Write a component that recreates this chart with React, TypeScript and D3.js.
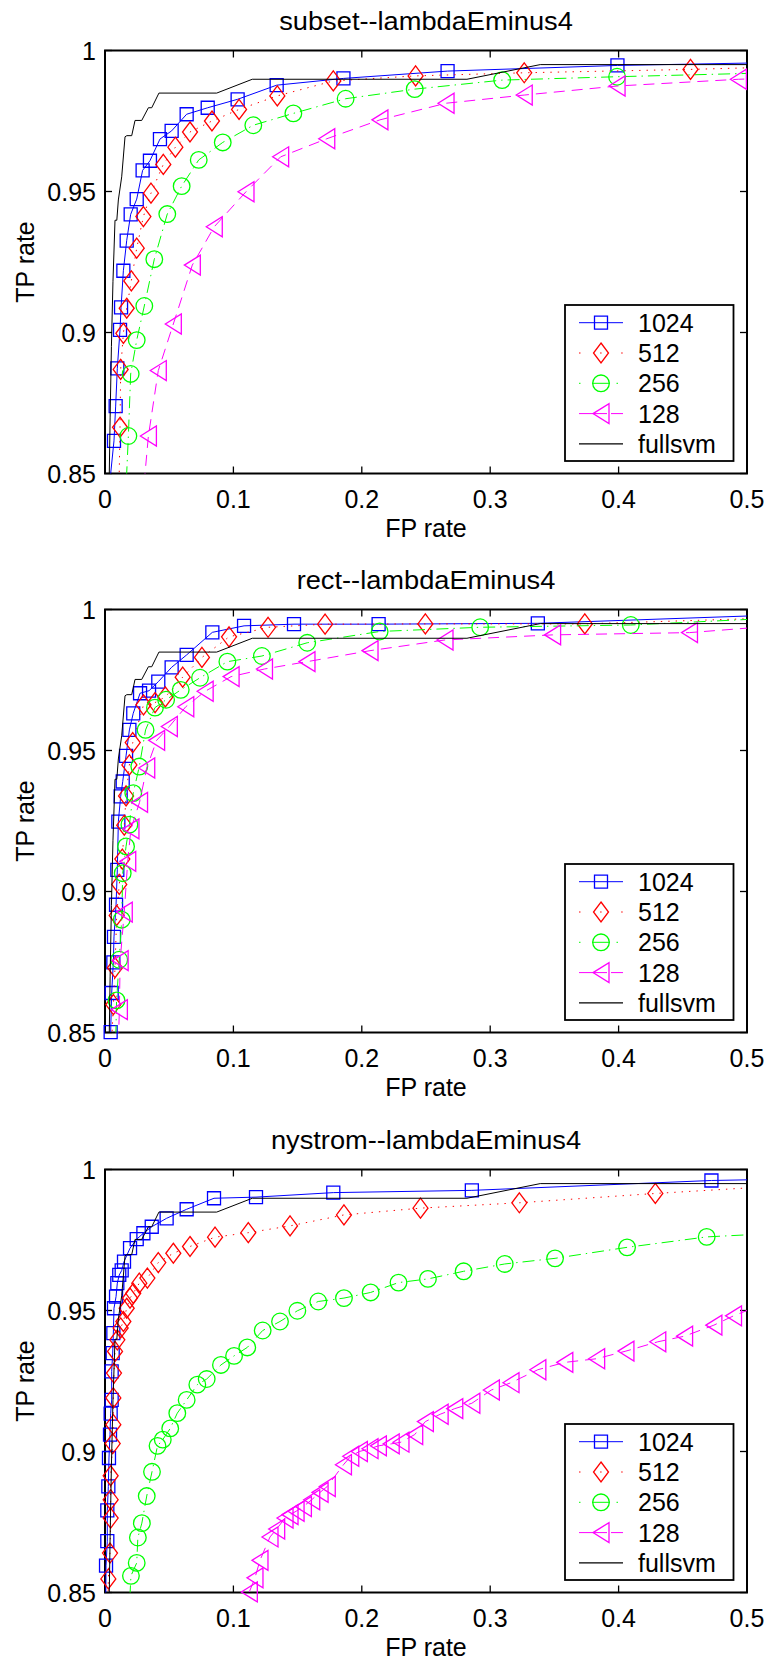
import React from 'react';
import * as d3 from 'd3';

// ---- axis ticks and labels ----
const FP_TICKS = [0, 0.1, 0.2, 0.3, 0.4, 0.5];
const TP_TICKS = [0.85, 0.9, 0.95, 1];
const PANEL_TITLES = ['subset--lambdaEminus4', 'rect--lambdaEminus4', 'nystrom--lambdaEminus4'];
const SERIES_NAMES = ['1024', '512', '256', '128', 'fullsvm'];

// ---- full SVM reference curve (same in every panel) ----
const FULLSVM_FPR = [0.0030, 0.0040, 0.0050, 0.0062, 0.0078, 0.0092, 0.0104, 0.0130, 0.0156, 0.0170, 0.0208, 0.0234, 0.0286, 0.0338, 0.0364, 0.0420, 0.0870, 0.1147, 0.2819, 0.3390, 0.5200];
const FULLSVM_TPR = [0.8400, 0.8700, 0.8950, 0.9180, 0.9398, 0.9398, 0.9470, 0.9552, 0.9694, 0.9698, 0.9698, 0.9752, 0.9752, 0.9797, 0.9797, 0.9849, 0.9849, 0.9898, 0.9898, 0.9950, 0.9950];

// ---- subset ----
const SUBSET_1024_FPR = [0.0022, 0.0070, 0.0083, 0.0096, 0.0117, 0.0125, 0.0143, 0.0169, 0.0200, 0.0247, 0.0293, 0.0350, 0.0428, 0.0519, 0.0636, 0.0800, 0.1033, 0.1337, 0.1857, 0.2668, 0.3991, 0.5200];
const SUBSET_1024_TPR = [0.8400, 0.8616, 0.8739, 0.8873, 0.9009, 0.9089, 0.9219, 0.9326, 0.9419, 0.9473, 0.9575, 0.9609, 0.9686, 0.9715, 0.9774, 0.9797, 0.9827, 0.9877, 0.9901, 0.9927, 0.9947, 0.9957];
const SUBSET_512_FPR = [0.0107, 0.0117, 0.0122, 0.0143, 0.0169, 0.0205, 0.0247, 0.0299, 0.0358, 0.0454, 0.0548, 0.0662, 0.0833, 0.1044, 0.1342, 0.1778, 0.2419, 0.3265, 0.4560, 0.5200];
const SUBSET_512_TPR = [0.8400, 0.8664, 0.8869, 0.8997, 0.9086, 0.9183, 0.9299, 0.9411, 0.9494, 0.9596, 0.9657, 0.9711, 0.9750, 0.9791, 0.9839, 0.9892, 0.9910, 0.9921, 0.9933, 0.9941];
const SUBSET_256_FPR = [0.0159, 0.0182, 0.0200, 0.0247, 0.0306, 0.0384, 0.0485, 0.0597, 0.0730, 0.0917, 0.1155, 0.1467, 0.1874, 0.2412, 0.3093, 0.3988, 0.5200];
const SUBSET_256_TPR = [0.8400, 0.8633, 0.8853, 0.8973, 0.9094, 0.9260, 0.9420, 0.9519, 0.9612, 0.9674, 0.9735, 0.9777, 0.9829, 0.9863, 0.9895, 0.9907, 0.9921];
const SUBSET_128_FPR = [0.0292, 0.0338, 0.0415, 0.0532, 0.0680, 0.0851, 0.1098, 0.1368, 0.1727, 0.2141, 0.2656, 0.3265, 0.3988, 0.4933, 0.5200];
const SUBSET_128_TPR = [0.8400, 0.8633, 0.8865, 0.9030, 0.9239, 0.9375, 0.9499, 0.9623, 0.9687, 0.9754, 0.9813, 0.9842, 0.9874, 0.9898, 0.9902];

// ---- rect ----
const RECT_1024_FPR = [0.0044, 0.0052, 0.0065, 0.0070, 0.0086, 0.0096, 0.0104, 0.0122, 0.0138, 0.0164, 0.0190, 0.0220, 0.0273, 0.0343, 0.0415, 0.0519, 0.0636, 0.0836, 0.1083, 0.1472, 0.2131, 0.3371, 0.5200];
const RECT_1024_TPR = [0.8501, 0.8640, 0.8749, 0.8839, 0.8953, 0.9077, 0.9248, 0.9337, 0.9390, 0.9481, 0.9573, 0.9632, 0.9703, 0.9712, 0.9744, 0.9795, 0.9839, 0.9919, 0.9942, 0.9948, 0.9948, 0.9951, 0.9980];
const RECT_512_FPR = [0.0045, 0.0065, 0.0078, 0.0091, 0.0111, 0.0135, 0.0150, 0.0164, 0.0190, 0.0216, 0.0300, 0.0390, 0.0470, 0.0605, 0.0755, 0.0966, 0.1270, 0.1714, 0.2495, 0.3737, 0.5200];
const RECT_512_TPR = [0.8400, 0.8599, 0.8730, 0.8915, 0.9025, 0.9115, 0.9235, 0.9339, 0.9449, 0.9528, 0.9662, 0.9670, 0.9690, 0.9760, 0.9830, 0.9903, 0.9937, 0.9948, 0.9949, 0.9949, 0.9970];
const RECT_256_FPR = [0.0080, 0.0090, 0.0111, 0.0130, 0.0138, 0.0164, 0.0190, 0.0220, 0.0267, 0.0316, 0.0389, 0.0476, 0.0590, 0.0740, 0.0953, 0.1222, 0.1575, 0.2139, 0.2922, 0.4095, 0.5200];
const RECT_256_TPR = [0.8400, 0.8614, 0.8758, 0.8900, 0.9065, 0.9160, 0.9237, 0.9349, 0.9443, 0.9573, 0.9652, 0.9680, 0.9715, 0.9758, 0.9815, 0.9835, 0.9882, 0.9922, 0.9937, 0.9945, 0.9969];
const RECT_128_FPR = [0.0100, 0.0112, 0.0118, 0.0150, 0.0177, 0.0202, 0.0269, 0.0325, 0.0402, 0.0501, 0.0629, 0.0780, 0.0982, 0.1242, 0.1573, 0.2064, 0.2648, 0.3486, 0.4552, 0.5200];
const RECT_128_TPR = [0.8400, 0.8581, 0.8755, 0.8927, 0.9107, 0.9222, 0.9316, 0.9438, 0.9536, 0.9585, 0.9655, 0.9710, 0.9762, 0.9789, 0.9815, 0.9854, 0.9892, 0.9910, 0.9918, 0.9941];

// ---- nystrom ----
const NYSTROM_1024_FPR = [0.0005, 0.0008, 0.0018, 0.0018, 0.0026, 0.0031, 0.0039, 0.0044, 0.0052, 0.0052, 0.0060, 0.0065, 0.0070, 0.0086, 0.0096, 0.0111, 0.0130, 0.0148, 0.0195, 0.0247, 0.0299, 0.0364, 0.0480, 0.0636, 0.0849, 0.1176, 0.1778, 0.2857, 0.4723, 0.5200];
const NYSTROM_1024_TPR = [0.8400, 0.8595, 0.8682, 0.8791, 0.8876, 0.8977, 0.9060, 0.9134, 0.9183, 0.9284, 0.9349, 0.9420, 0.9508, 0.9549, 0.9597, 0.9626, 0.9642, 0.9673, 0.9721, 0.9753, 0.9774, 0.9797, 0.9827, 0.9859, 0.9898, 0.9902, 0.9918, 0.9926, 0.9961, 0.9965];
const NYSTROM_512_FPR = [0.0022, 0.0026, 0.0039, 0.0044, 0.0044, 0.0044, 0.0060, 0.0065, 0.0065, 0.0070, 0.0078, 0.0096, 0.0122, 0.0143, 0.0169, 0.0195, 0.0220, 0.0267, 0.0330, 0.0415, 0.0532, 0.0662, 0.0857, 0.1116, 0.1441, 0.1861, 0.2457, 0.3227, 0.4286, 0.5200];
const NYSTROM_512_TPR = [0.8400, 0.8548, 0.8640, 0.8764, 0.8829, 0.8914, 0.9028, 0.9095, 0.9190, 0.9278, 0.9355, 0.9396, 0.9438, 0.9461, 0.9508, 0.9544, 0.9561, 0.9597, 0.9615, 0.9670, 0.9703, 0.9727, 0.9760, 0.9776, 0.9800, 0.9839, 0.9863, 0.9882, 0.9915, 0.9940];
const NYSTROM_256_FPR = [0.0185, 0.0202, 0.0247, 0.0256, 0.0287, 0.0325, 0.0366, 0.0409, 0.0450, 0.0508, 0.0563, 0.0636, 0.0719, 0.0792, 0.0903, 0.1005, 0.1108, 0.1228, 0.1363, 0.1498, 0.1661, 0.1861, 0.2069, 0.2286, 0.2515, 0.2793, 0.3113, 0.3505, 0.4066, 0.4686, 0.5200];
const NYSTROM_256_TPR = [0.8400, 0.8559, 0.8605, 0.8695, 0.8746, 0.8842, 0.8928, 0.9020, 0.9042, 0.9082, 0.9136, 0.9183, 0.9237, 0.9257, 0.9307, 0.9339, 0.9369, 0.9429, 0.9461, 0.9499, 0.9532, 0.9544, 0.9564, 0.9599, 0.9612, 0.9639, 0.9665, 0.9685, 0.9724, 0.9761, 0.9773];
const NYSTROM_128_FPR = [0.1124, 0.1168, 0.1207, 0.1285, 0.1337, 0.1402, 0.1441, 0.1488, 0.1545, 0.1610, 0.1675, 0.1731, 0.1857, 0.1914, 0.1981, 0.2064, 0.2129, 0.2229, 0.2305, 0.2412, 0.2495, 0.2610, 0.2724, 0.2857, 0.3009, 0.3162, 0.3371, 0.3581, 0.3829, 0.4057, 0.4305, 0.4514, 0.4742, 0.4895, 0.5200];
const NYSTROM_128_TPR = [0.8502, 0.8552, 0.8614, 0.8697, 0.8725, 0.8764, 0.8776, 0.8788, 0.8805, 0.8829, 0.8855, 0.8876, 0.8953, 0.8983, 0.9000, 0.9010, 0.9020, 0.9027, 0.9033, 0.9060, 0.9106, 0.9132, 0.9152, 0.9171, 0.9218, 0.9244, 0.9290, 0.9316, 0.9329, 0.9356, 0.9389, 0.9409, 0.9448, 0.9481, 0.9536];

// ---- styling ----
const FONT = '"Liberation Sans", Arial, Helvetica, sans-serif';
const W = 766;
const H = 1660;
const PLOT_LEFT = 105;
const PLOT_RIGHT = 747;
const PLOT_H = 423;
const PANEL_TOPS = [50.5, 609.5, 1169.5];

type MarkerKind = 'square' | 'diamond' | 'circle' | 'triangle' | 'none';

interface SeriesStyle {
  color: string;
  dash: string | undefined;
  legendDash: string | undefined;
  marker: MarkerKind;
}

const STYLES: SeriesStyle[] = [
  { color: '#0000ff', dash: undefined, legendDash: undefined, marker: 'square' },
  { color: '#ff0000', dash: '1.4,6', legendDash: '1.5,19.6', marker: 'diamond' },
  { color: '#00ff00', dash: '12,5,1.4,5', legendDash: '1.5,11.5,18,6.5,1.5,20', marker: 'circle' },
  { color: '#ff00ff', dash: '11,7', legendDash: '28,4,12', marker: 'triangle' },
  { color: '#000000', dash: undefined, legendDash: undefined, marker: 'none' },
];

const PANEL_DATA: [number[], number[]][][] = [
  [
    [SUBSET_1024_FPR, SUBSET_1024_TPR],
    [SUBSET_512_FPR, SUBSET_512_TPR],
    [SUBSET_256_FPR, SUBSET_256_TPR],
    [SUBSET_128_FPR, SUBSET_128_TPR],
    [FULLSVM_FPR, FULLSVM_TPR],
  ],
  [
    [RECT_1024_FPR, RECT_1024_TPR],
    [RECT_512_FPR, RECT_512_TPR],
    [RECT_256_FPR, RECT_256_TPR],
    [RECT_128_FPR, RECT_128_TPR],
    [FULLSVM_FPR, FULLSVM_TPR],
  ],
  [
    [NYSTROM_1024_FPR, NYSTROM_1024_TPR],
    [NYSTROM_512_FPR, NYSTROM_512_TPR],
    [NYSTROM_256_FPR, NYSTROM_256_TPR],
    [NYSTROM_128_FPR, NYSTROM_128_TPR],
    [FULLSVM_FPR, FULLSVM_TPR],
  ],
];

function markerPath(kind: MarkerKind, cx: number, cy: number): string {
  switch (kind) {
    case 'square':
      return `M${cx - 6.5},${cy - 6.5}h13v13h-13Z`;
    case 'diamond':
      return `M${cx},${cy - 10}L${cx + 7.5},${cy}L${cx},${cy + 10}L${cx - 7.5},${cy}Z`;
    case 'circle': {
      const r = 8.3;
      return `M${cx - r},${cy}a${r},${r} 0 1,0 ${2 * r},0a${r},${r} 0 1,0 ${-2 * r},0Z`;
    }
    case 'triangle':
      return `M${cx - 8},${cy}L${cx + 8},${cy - 10}L${cx + 8},${cy + 10}Z`;
    default:
      return '';
  }
}

function Panel({ index }: { index: number }) {
  const top = PANEL_TOPS[index];
  const bottom = top + PLOT_H;
  const x = d3.scaleLinear().domain([0, 0.5]).range([PLOT_LEFT, PLOT_RIGHT]);
  const y = d3.scaleLinear().domain([0.85, 1]).range([bottom, top]);
  const line = d3
    .line<[number, number]>()
    .x((d) => x(d[0]))
    .y((d) => y(d[1]));
  const clipId = `plot-clip-${index}`;
  const cx = (PLOT_LEFT + PLOT_RIGHT) / 2;

  // legend geometry
  const legRight = PLOT_RIGHT - 13.5;
  const legLeft = legRight - 168.5;
  const legBottom = bottom - 12.5;
  const legTop = legBottom - 156;
  const rowY = (i: number) => legTop + 17.7 + i * 30.3;

  return (
    <g>
      <defs>
        <clipPath id={clipId}>
          <rect x={PLOT_LEFT} y={top} width={PLOT_RIGHT - PLOT_LEFT} height={PLOT_H} />
        </clipPath>
      </defs>

      {/* title */}
      <text
        transform={`translate(${cx},${top - 20.5}) scale(1.09,1)`}
        textAnchor="middle"
        fontFamily={FONT}
        fontSize={25}
        fill="#000"
      >
        {PANEL_TITLES[index]}
      </text>

      {/* axes box */}
      <rect
        x={PLOT_LEFT}
        y={top}
        width={PLOT_RIGHT - PLOT_LEFT}
        height={PLOT_H}
        fill="#fff"
        stroke="#000"
        strokeWidth={2}
      />

      {/* x ticks */}
      {FP_TICKS.map((t) => (
        <g key={`xt${t}`}>
          <line x1={x(t)} x2={x(t)} y1={bottom} y2={bottom - 7} stroke="#000" strokeWidth={1.3} />
          <line x1={x(t)} x2={x(t)} y1={top} y2={top + 7} stroke="#000" strokeWidth={1.3} />
          <text x={x(t)} y={bottom + 34} textAnchor="middle" fontFamily={FONT} fontSize={25} fill="#000">
            {String(t)}
          </text>
        </g>
      ))}

      {/* y ticks */}
      {TP_TICKS.map((t) => (
        <g key={`yt${t}`}>
          <line x1={PLOT_LEFT} x2={PLOT_LEFT + 7} y1={y(t)} y2={y(t)} stroke="#000" strokeWidth={1.3} />
          <line x1={PLOT_RIGHT} x2={PLOT_RIGHT - 7} y1={y(t)} y2={y(t)} stroke="#000" strokeWidth={1.3} />
          <text x={96} y={y(t) + 9} textAnchor="end" fontFamily={FONT} fontSize={25} fill="#000">
            {String(t)}
          </text>
        </g>
      ))}

      {/* axis labels */}
      <text x={cx} y={bottom + 63} textAnchor="middle" fontFamily={FONT} fontSize={25} fill="#000">
        FP rate
      </text>
      <text
        transform={`translate(34,${(top + bottom) / 2}) rotate(-90)`}
        textAnchor="middle"
        fontFamily={FONT}
        fontSize={25}
        fill="#000"
      >
        TP rate
      </text>

      {/* curves */}
      {PANEL_DATA[index].map(([fpr, tpr], si) => {
        const st = STYLES[si];
        const pts: [number, number][] = fpr.map((f, k) => [f, tpr[k]]);
        const inside = pts.filter((p) => p[0] >= 0 && p[0] <= 0.5 && p[1] >= 0.85 && p[1] <= 1);
        return (
          <g key={`s${si}`}>
            <path
              d={line(pts) || ''}
              fill="none"
              stroke={st.color}
              strokeWidth={1}
              strokeDasharray={st.dash}
              clipPath={`url(#${clipId})`}
            />
            {st.marker !== 'none' &&
              inside.map((p, k) => (
                <path
                  key={k}
                  d={markerPath(st.marker, x(p[0]), y(p[1]))}
                  fill="none"
                  stroke={st.color}
                  strokeWidth={1.3}
                />
              ))}
          </g>
        );
      })}

      {/* legend */}
      <rect
        x={legLeft}
        y={legTop}
        width={legRight - legLeft}
        height={legBottom - legTop}
        fill="#fff"
        stroke="#000"
        strokeWidth={1.8}
      />
      {SERIES_NAMES.map((name, i) => {
        const st = STYLES[i];
        const ry = rowY(i);
        const lx1 = legLeft + 14;
        const lx2 = legLeft + 58;
        const mx = (lx1 + lx2) / 2;
        return (
          <g key={`lg${i}`}>
            <line
              x1={lx1}
              x2={lx2}
              y1={ry}
              y2={ry}
              stroke={st.color}
              strokeWidth={st.marker === 'none' ? 1.3 : 1}
              strokeDasharray={st.legendDash}
            />
            {st.marker !== 'none' && (
              <path d={markerPath(st.marker, mx, ry)} fill="none" stroke={st.color} strokeWidth={1.3} />
            )}
            <text x={legLeft + 73} y={ry + 9} fontFamily={FONT} fontSize={25} fill="#000">
              {name}
            </text>
          </g>
        );
      })}
    </g>
  );
}

export default function App() {
  return (
    <div style={{ position: 'absolute', left: 0, top: 0, width: W, height: H, background: '#fff' }}>
      <svg width={W} height={H} viewBox={`0 0 ${W} ${H}`} style={{ display: 'block' }}>
        <rect x={0} y={0} width={W} height={H} fill="#fff" />
        {PANEL_TITLES.map((_, i) => (
          <Panel key={i} index={i} />
        ))}
      </svg>
    </div>
  );
}
